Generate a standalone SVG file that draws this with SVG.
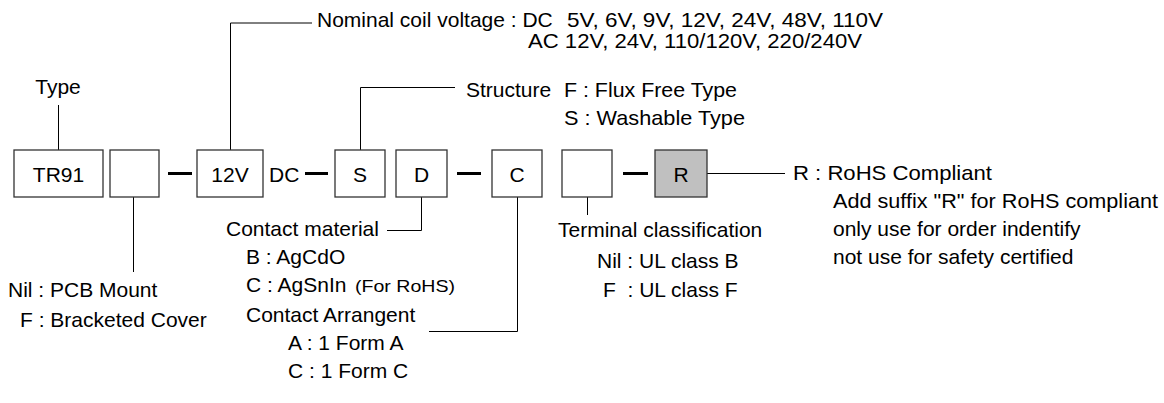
<svg xmlns="http://www.w3.org/2000/svg" width="1164" height="403" viewBox="0 0 1164 403">
<style>
text{font-family:"Liberation Sans",Arial,sans-serif;font-size:21px;fill:#000;white-space:pre}
.c{text-anchor:middle}
.s{font-size:17px}
.box{fill:#fff;stroke:#333;stroke-width:1.3}
.gray{fill:#c0c0c0}
.ln{fill:none;stroke:#000;stroke-width:1}
.dash{stroke:#000;stroke-width:3}
</style>
<rect width="1164" height="403" fill="#fff"/>
<g id="connectors">
<path class="ln" d="M58.5 105V150"/>
<path class="ln" d="M230.5 150V23H312"/>
<path class="ln" d="M360.5 150V87.5H455"/>
<path class="ln" d="M133.5 197V272"/>
<path class="ln" d="M387 230.5H421.5V197"/>
<path class="ln" d="M429 331.5H517.5V197"/>
<path class="ln" d="M587.5 197V215"/>
<path class="ln" d="M707 173.5H785"/>
<path class="dash" d="M168 173.5H192M305 173.5H328M457 173.5H481M623 173.5H648"/>
</g>
<g id="type"><text class="c" x="58" y="94">Type</text></g>
<g id="voltage">
<text x="317" y="27">Nominal coil voltage : DC</text>
<text x="567" y="27" textLength="316" lengthAdjust="spacingAndGlyphs">5V, 6V, 9V, 12V, 24V, 48V, 110V</text>
<text x="528" y="48" textLength="334" lengthAdjust="spacingAndGlyphs">AC 12V, 24V, 110/120V, 220/240V</text>
</g>
<g id="structure">
<text x="466" y="97">Structure</text>
<text x="564" y="97" textLength="173" lengthAdjust="spacingAndGlyphs">F : Flux Free Type</text>
<text x="564" y="125" textLength="181" lengthAdjust="spacingAndGlyphs">S : Washable Type</text>
</g>
<g id="box-tr91"><rect class="box" x="14" y="150" width="89" height="47"/><text class="c" x="58.5" y="182">TR91</text></g>
<g id="box-mount"><rect class="box" x="110" y="150" width="49" height="47"/></g>
<g id="box-12v"><rect class="box" x="197" y="150" width="66" height="47"/><text class="c" x="230" y="182">12V</text></g>
<g id="dc"><text x="269" y="182">DC</text></g>
<g id="box-s"><rect class="box" x="335" y="150" width="50" height="47"/><text class="c" x="360" y="182">S</text></g>
<g id="box-d"><rect class="box" x="396" y="150" width="51" height="47"/><text class="c" x="421.5" y="182">D</text></g>
<g id="box-c"><rect class="box" x="492" y="150" width="50" height="47"/><text class="c" x="517" y="182">C</text></g>
<g id="box-term"><rect class="box" x="562" y="150" width="50" height="47"/></g>
<g id="box-r"><rect class="box gray" x="655" y="150" width="52" height="47"/><text class="c" x="681" y="182">R</text></g>
<g id="mount">
<text x="8" y="297">Nil : PCB Mount</text>
<text x="20" y="327">F : Bracketed Cover</text>
</g>
<g id="material">
<text x="226" y="236">Contact material</text>
<text x="246" y="264">B : AgCdO</text>
<text x="246" y="292">C : AgSnIn</text>
<text class="s" x="355" y="292" textLength="100" lengthAdjust="spacingAndGlyphs">(For RoHS)</text>
</g>
<g id="arrangement">
<text x="246" y="322">Contact Arrangent</text>
<text x="288" y="350">A : 1 Form A</text>
<text x="288" y="378">C : 1 Form C</text>
</g>
<g id="terminal">
<text x="558" y="237">Terminal classification</text>
<text x="597" y="268">Nil : UL class B</text>
<text x="603" y="297">F  : UL class F</text>
</g>
<g id="rohs">
<text x="793" y="180" textLength="199" lengthAdjust="spacingAndGlyphs">R : RoHS Compliant</text>
<text x="833" y="208" textLength="325" lengthAdjust="spacingAndGlyphs">Add suffix "R" for RoHS compliant</text>
<text x="833" y="236">only use for order indentify</text>
<text x="833" y="264">not use for safety certified</text>
</g>
</svg>
